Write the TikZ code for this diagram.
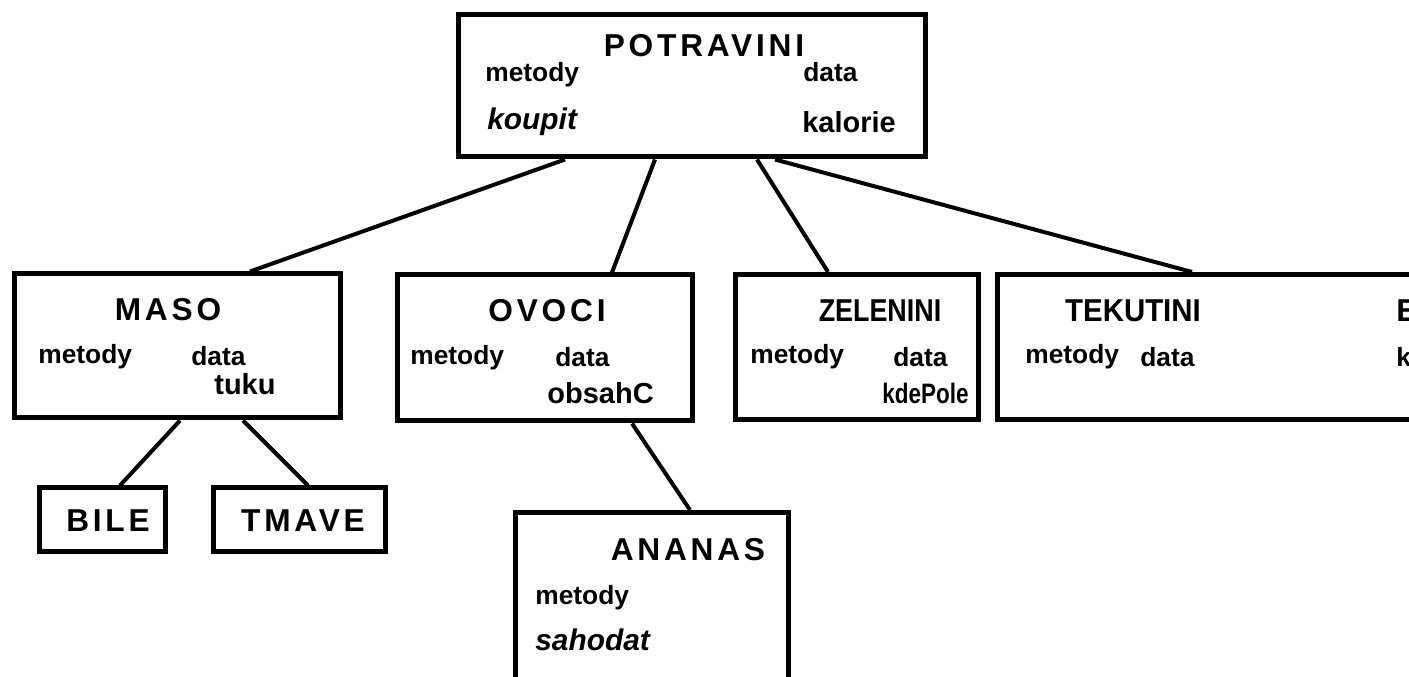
\documentclass[tikz,border=0pt]{standalone}
\usepackage{fontspec}
\usepackage{graphicx}
\setmainfont{Liberation Sans}
\newfontfamily\ttlfont{Liberation Sans}[LetterSpace=12]
\usetikzlibrary{calc}
\tikzset{
  box/.style={draw, rectangle, line width=1mm, inner sep=0pt},
  link/.style={draw, line width=0.8mm},
  ttl/.style={font=\ttlfont\bfseries\fontsize{18}{20}\selectfont, inner sep=0pt},
  ttlnarrow/.style={font=\bfseries\fontsize{18}{20}\selectfont, inner sep=0pt},
  sm/.style={font=\bfseries\fontsize{15}{17}\selectfont, inner sep=0pt, anchor=west},
  fld/.style={font=\bfseries\fontsize{16.5}{18}\selectfont, inner sep=0pt, anchor=west},
  itl/.style={font=\bfseries\itshape\fontsize{17}{19}\selectfont, inner sep=0pt, anchor=west},
}
\begin{document}
\begin{tikzpicture}[x=0.2mm,y=-0.2mm]
\useasboundingbox (0,0) rectangle (1409,677);
\clip (0,0) rectangle (1409,677);
\fill[white] (0,0) rectangle (1409,677);

% boxes
\node[box, minimum width=93.4mm, minimum height=28.4mm] (potr) at (691.5,86) {};
\node[box, minimum width=65mm, minimum height=28.8mm] (maso) at (177.5,346) {};
\node[box, minimum width=59mm, minimum height=29.2mm] (ovoci) at (544.5,348) {};
\node[box, minimum width=48.6mm, minimum height=29mm] (zel) at (856.5,347) {};
\node[box, minimum width=88.6mm, minimum height=29mm] (tek) at (1218.5,347) {};
\node[box, minimum width=25mm, minimum height=12.8mm] (bile) at (102.5,520) {};
\node[box, minimum width=34.4mm, minimum height=12.8mm] (tmave) at (299,520) {};
\node[box, minimum width=54.6mm, minimum height=37.4mm] (ananas) at (652,606) {};

% POTRAVINI
\node[ttl] (potrT) at (704,46) {POTRAVINI};
\node[sm] (potrM) at (485,75) {metody};
\node[sm] (potrD) at (803,72) {data};
\node[itl] (potrK) at (487,122) {koupit};
\node[fld] (potrC) at (802,122) {kalorie};

% MASO
\node[ttl] (masoT) at (168,310) {MASO};
\node[sm] (masoM) at (38,357) {metody};
\node[sm] (masoD) at (191,356) {data};
\node[fld] (masoF) at (214,384) {tuku};

% OVOCI
\node[ttl] (ovociT) at (547,311) {OVOCI};
\node[sm] (ovociM) at (410,358) {metody};
\node[sm] (ovociD) at (555,357) {data};
\node[fld] (ovociF) at (547,393) {obsahC};

% ZELENINI
\node[ttlnarrow] (zelT) at (880,311) {\scalebox{0.85}[1]{ZELENINI}};
\node[sm] (zelM) at (750,357) {metody};
\node[sm] (zelD) at (893,357) {data};
\node[fld, font=\bfseries\fontsize{16}{18}\selectfont] (zelF) at (882,393) {\scalebox{0.8}[1]{kdePole}};

% TEKUTINI
\node[ttlnarrow] (tekT) at (1133,311) {\scalebox{0.93}[1]{TEKUTINI}};
\node[sm] (tekM) at (1025,357) {metody};
\node[sm] (tekD) at (1140,357) {data};
\node[ttl, anchor=west] (tekX) at (1396,311) {E};
\node[sm] (tekY) at (1396,357) {k};

% leaves
\node[ttl] (bileT) at (108,521) {BILE};
\node[ttl] (tmaveT) at (303,521) {TMAVE};
\node[ttl] (ananasT) at (688,550) {ANANAS};
\node[sm] (ananasM) at (535,598) {metody};
\node[itl] (ananasF) at (535,640) {sahodat};

% connectors
\draw[link] ($(potr.south)+(-126.5,0)$) -- ($(maso.north)+(72.5,0)$);
\draw[link] ($(potr.south)+(-36.5,0)$) -- ($(ovoci.north)+(67.5,0)$);
\draw[link] ($(potr.south)+(65.5,0)$) -- ($(zel.north)+(-28.5,0)$);
\draw[link] ($(potr.south)+(83.5,0)$) -- ($(tek.north)+(-26.5,0)$);
\draw[link] ($(maso.south)+(2.5,0)$) -- ($(bile.north)+(17.5,0)$);
\draw[link] ($(maso.south)+(65.5,0)$) -- ($(tmave.north)+(9,0)$);
\draw[link] ($(ovoci.south)+(87.5,0)$) -- ($(ananas.north)+(38,0)$);
\end{tikzpicture}
\end{document}
